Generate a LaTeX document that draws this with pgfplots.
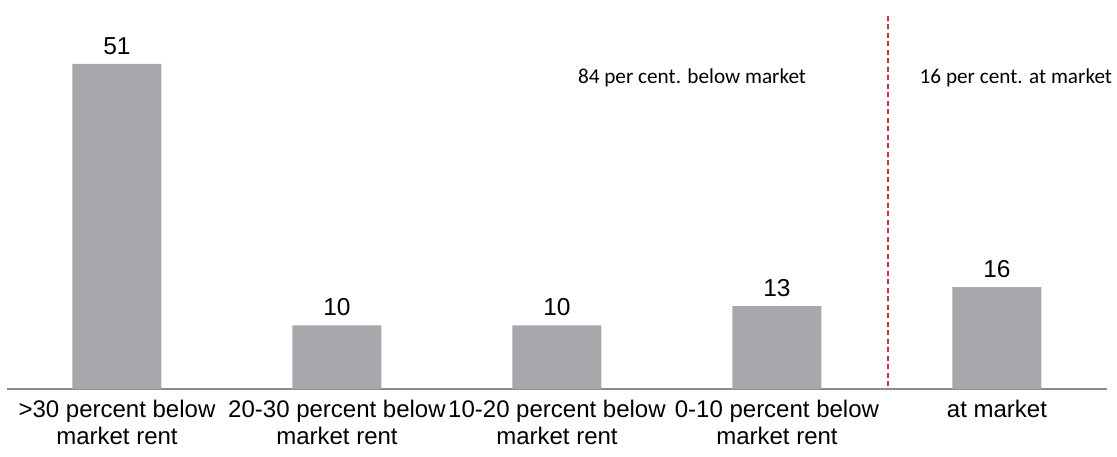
\documentclass[border=0pt]{standalone}
\usepackage{pgfplots}
\pgfplotsset{compat=1.18}
\usepackage{fontspec}
\setmainfont{Liberation Sans}
\newfontfamily\notefont{Carlito}

\definecolor{barGray}{HTML}{A7A8AB}
\definecolor{axisGray}{HTML}{8C8C8C}
\definecolor{splitRed}{HTML}{C8323C}

\begin{document}
\begin{tikzpicture}
  % fixed canvas, 1pt per pixel
  \path[use as bounding box] (0,0) rectangle (1117pt,456pt);
  \begin{axis}[
    at={(7pt,67pt)}, anchor=south west,
    scale only axis,
    width=1100pt, height=376pt,
    xmin=-0.5, xmax=4.5,
    ymin=0, ymax=59,
    axis x line=bottom,
    axis y line=none,
    axis line style={-, draw=axisGray, line width=2.4pt},
    major tick length=0pt,
    ytick=\empty,
    xtick=data,
    xticklabels={{>30 percent below\\market rent},
                 {20-30 percent below\\market rent},
                 {10-20 percent below\\market rent},
                 {0-10 percent below\\market rent},
                 {at market}},
    x tick label style={align=center, font=\fontsize{24}{26.5}\selectfont,
                        anchor=north, yshift=-8pt},
    ybar, bar width=89pt,
    nodes near coords,
    /pgf/number format/assume math mode=true,
    every node near coord/.append style={font=\fontsize{24.5}{27}\selectfont,
                                         yshift=6pt},
    clip=false,
  ]
    \addplot[fill=barGray, draw=none] coordinates {
      (0,51) (1,10) (2,10) (3,13) (4,16)
    };
    \draw[splitRed, line width=1.3pt, dash pattern=on 5pt off 3.5pt]
      (axis cs:3.505,0.4) -- (axis cs:3.505,58.7);
    \node[font=\notefont\fontsize{21.2}{25}\selectfont]
      at (axis cs:2.614,48.8) {84 per cent. below market};
    \node[font=\notefont\fontsize{21.2}{25}\selectfont]
      at (axis cs:4.086,48.8) {16 per cent. at market};
  \end{axis}
\end{tikzpicture}
\end{document}
